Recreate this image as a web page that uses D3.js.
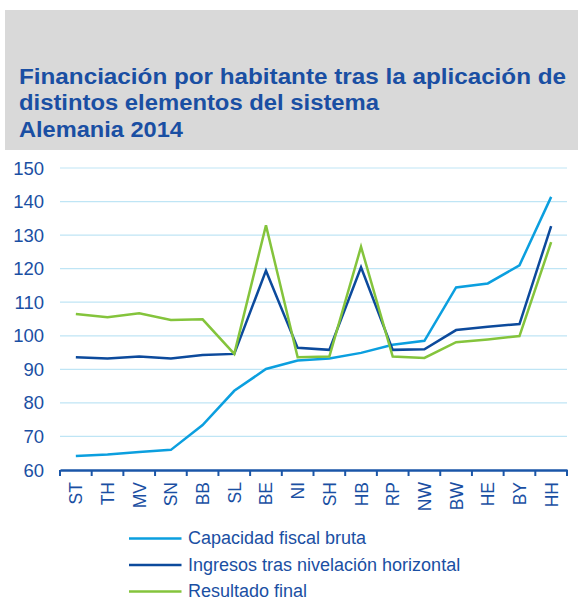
<!DOCTYPE html>
<html>
<head>
    <title></title>
    <meta charset="utf-8">
    <style>
        body { margin: 0; background: #fff; }
        text { font-family: 'Liberation Sans', Arial, sans-serif; }
    </style>
</head>
<body>
<script src="https://cdn.jsdelivr.net/npm/d3@7"></script>
<script>
    var states = ['ST', 'TH', 'MV', 'SN', 'BB', 'SL', 'BE', 'NI', 'SH', 'HB', 'RP', 'NW', 'BW', 'HE', 'BY', 'HH'];
    var capacidad = [64.2, 64.6, 65.4, 66.0, 73.4, 83.6, 90.1, 92.6, 93.2, 94.9, 97.3, 98.5, 114.4, 115.6, 121.0, 141.4];
    var ingresos = [93.6, 93.2, 93.8, 93.2, 94.3, 94.6, 119.4, 96.4, 95.8, 120.4, 95.8, 96.0, 101.7, 102.7, 103.5, 132.7];
    var resultado = [106.5, 105.5, 106.7, 104.7, 104.9, 94.6, 132.9, 93.6, 93.8, 126.5, 93.8, 93.4, 98.1, 98.9, 99.9, 127.9];
    var yTicks = [60, 70, 80, 90, 100, 110, 120, 130, 140, 150];
    var seriesNames = ['Capacidad fiscal bruta', 'Ingresos tras nivelación horizontal', 'Resultado final'];
    var titleLines = ['Financiación por habitante tras la aplicación de', 'distintos elementos del sistema', 'Alemania 2014'];
    var titleWidths = [547, 360, 164];

    var colors = ['#0b9fdf', '#0c4a9c', '#84c43c'];
    var textBlue = '#1a4fa3';

    var svg = d3.select('body').append('svg')
        .attr('width', 578)
        .attr('height', 601);

    // header band
    svg.append('rect')
        .attr('x', 5).attr('y', 10)
        .attr('width', 573).attr('height', 140)
        .attr('fill', '#d9d9d9');

    svg.selectAll('.title').data(titleLines).enter()
        .append('text')
        .attr('x', 19)
        .attr('y', function (d, i) { return 83.5 + i * 26.5; })
        .attr('fill', textBlue)
        .attr('font-size', 22)
        .attr('font-weight', 'bold')
        .attr('textLength', function (d, i) { return titleWidths[i]; })
        .attr('lengthAdjust', 'spacingAndGlyphs')
        .text(function (d) { return d; });

    var x = d3.scaleBand().domain(states).range([60, 567]);
    var y = d3.scaleLinear().domain([60, 150]).range([470, 168]);

    // grid
    svg.append('g').selectAll('line').data(yTicks.slice(1)).enter()
        .append('line')
        .attr('x1', 60).attr('x2', 567)
        .attr('y1', function (d) { return y(d); })
        .attr('y2', function (d) { return y(d); })
        .attr('stroke', '#bfe5f5')
        .attr('stroke-width', 1.2);

    // y labels
    svg.append('g').selectAll('text').data(yTicks).enter()
        .append('text')
        .attr('x', 44)
        .attr('y', function (d) { return y(d) + 6.5; })
        .attr('text-anchor', 'end')
        .attr('fill', textBlue)
        .attr('font-size', 18.5)
        .text(function (d) { return d; });

    // x axis
    var xAxis = svg.append('g')
        .attr('transform', 'translate(0,' + y(60) + ')')
        .call(d3.axisBottom(x).tickSize(0).tickFormat(''));
    xAxis.select('.domain').attr('stroke', '#1a56a8').attr('stroke-width', 2.5);

    var bounds = states.map(function (s) { return x(s); }).concat([567]);
    svg.append('g').selectAll('line').data(bounds).enter()
        .append('line')
        .attr('x1', function (d) { return d; })
        .attr('x2', function (d) { return d; })
        .attr('y1', y(60)).attr('y2', y(60) + 6)
        .attr('stroke', '#1a56a8')
        .attr('stroke-width', 2);

    svg.append('g').selectAll('text').data(states).enter()
        .append('text')
        .attr('transform', function (d) {
            return 'translate(' + (x(d) + x.bandwidth() / 2 + 6.5) + ',482) rotate(-90)';
        })
        .attr('text-anchor', 'end')
        .attr('fill', textBlue)
        .attr('font-size', 17.5)
        .text(function (d) { return d; });

    // lines
    var line = d3.line()
        .x(function (d, i) { return x(states[i]) + x.bandwidth() / 2; })
        .y(function (d) { return y(d); });

    var series = [capacidad, ingresos, resultado];
    svg.append('g').selectAll('path').data(series).enter()
        .append('path')
        .attr('d', line)
        .attr('fill', 'none')
        .attr('stroke', function (d, i) { return colors[i]; })
        .attr('stroke-width', 2.5)
        .attr('stroke-linejoin', 'miter');

    // legend
    var legend = svg.append('g').selectAll('g').data(seriesNames).enter()
        .append('g')
        .attr('transform', function (d, i) { return 'translate(0,' + (538.5 + i * 26.5) + ')'; });
    legend.append('line')
        .attr('x1', 129).attr('x2', 181.5)
        .attr('stroke', function (d, i) { return colors[i]; })
        .attr('stroke-width', 2.5);
    legend.append('text')
        .attr('x', 188).attr('y', 5.5)
        .attr('fill', textBlue)
        .attr('font-size', 18)
        .text(function (d) { return d; });
</script>
</body>
</html>
